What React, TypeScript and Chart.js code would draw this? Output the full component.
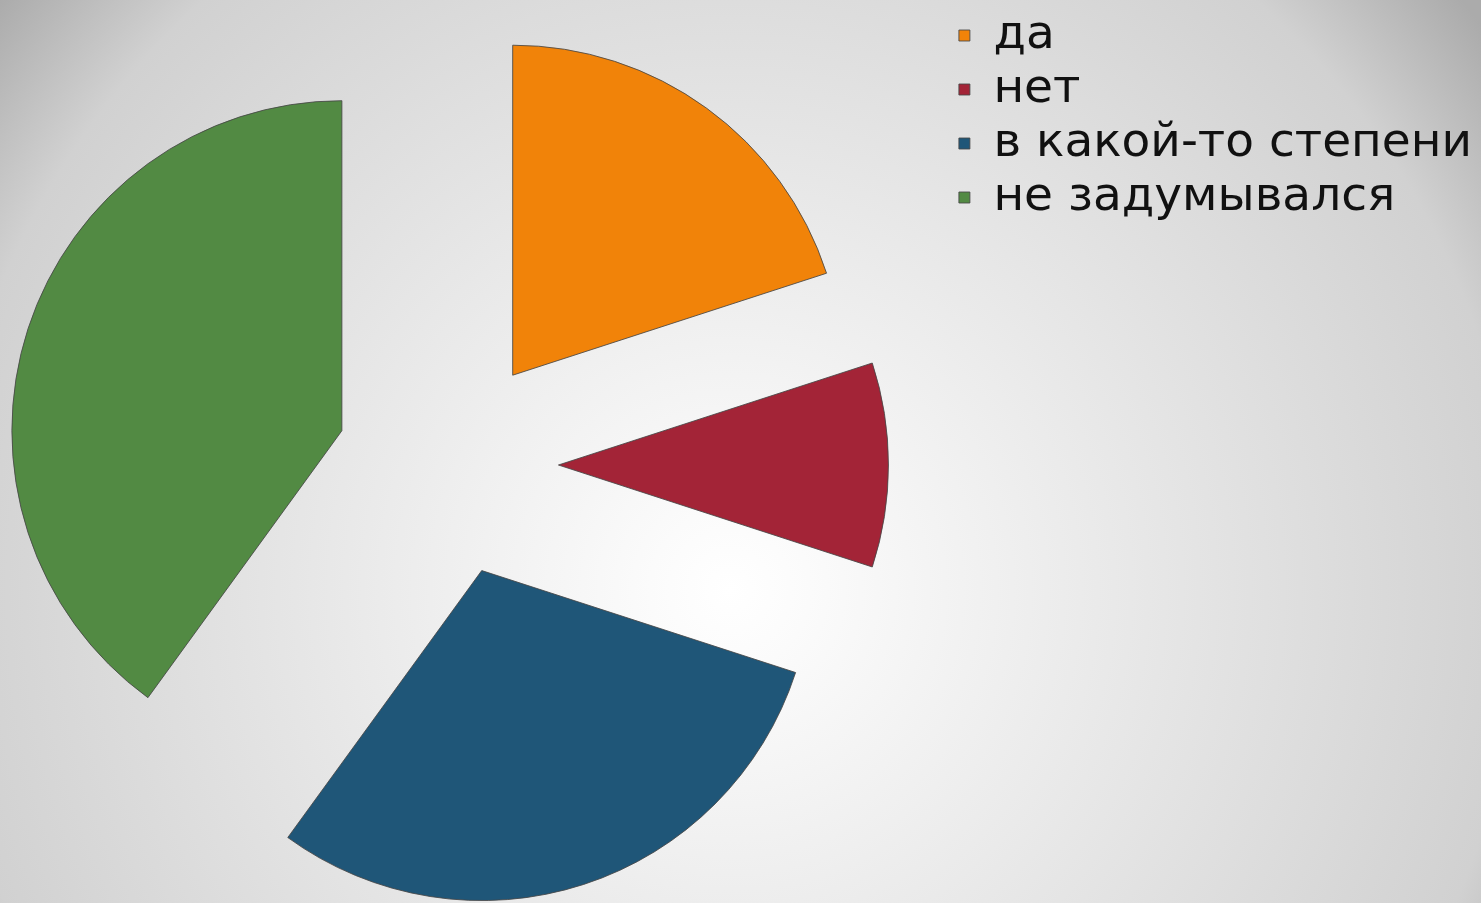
import React, { useEffect, useRef } from 'react';
import { Chart, registerables, PieController, ArcElement } from 'chart.js';

Chart.register(...registerables);

const categories = ['да', 'нет', 'в какой-то степени', 'не задумывался'];
const values = [20, 10, 30, 40];
const colors = ['#F18309', '#A32437', '#1F5678', '#528A43'];

class ExplodedArc extends ArcElement {
  static id = 'explodedArc';
  static defaults = { explode: 0 };
  draw(ctx: CanvasRenderingContext2D) {
    const d = (this as any).options.explode || 0;
    const mid = ((this as any).startAngle + (this as any).endAngle) / 2;
    ctx.save();
    ctx.translate(Math.cos(mid) * d, Math.sin(mid) * d);
    super.draw(ctx);
    ctx.restore();
  }
}

class ExplodedPieController extends PieController {
  static id = 'explodedPie';
  static defaults = { dataElementType: 'explodedArc' };
}

Chart.register(ExplodedArc as any, ExplodedPieController as any);

export default function App() {
  const ref = useRef<HTMLCanvasElement | null>(null);

  useEffect(() => {
    if (!ref.current) return;
    const chart = new Chart(ref.current, {
      type: 'explodedPie' as any,
      data: {
        labels: categories,
        datasets: [
          {
            data: values,
            backgroundColor: colors,
            borderColor: 'rgba(70,70,70,0.85)',
            borderWidth: 1,
            radius: 330,
            explode: 111,
            clip: false,
          } as any,
        ],
      },
      options: {
        animation: false,
        responsive: true,
        maintainAspectRatio: false,
        layout: { padding: 0 },
        plugins: {
          legend: {
            display: true,
            position: 'right',
            align: 'start',
            labels: {
              boxWidth: 11,
              boxHeight: 11,
              padding: 7,
              color: '#111111',
              font: { family: 'DejaVu Sans', size: 47 },
            },
          },
          tooltip: { enabled: false },
        },
      } as any,
    });
    return () => chart.destroy();
  }, []);

  return (
    <div
      style={{
        position: 'fixed',
        left: 0,
        top: 0,
        width: 1481,
        height: 903,
        overflow: 'hidden',
        background:
          'radial-gradient(circle at 730px 590px, #ffffff 0px, #fbfbfb 80px, #d1d1d1 790px, #ababab 940px)',
      }}
    >
      <div style={{ position: 'absolute', left: -57, top: 5, width: 1539, height: 920 }}>
        <canvas ref={ref} />
      </div>
    </div>
  );
}
